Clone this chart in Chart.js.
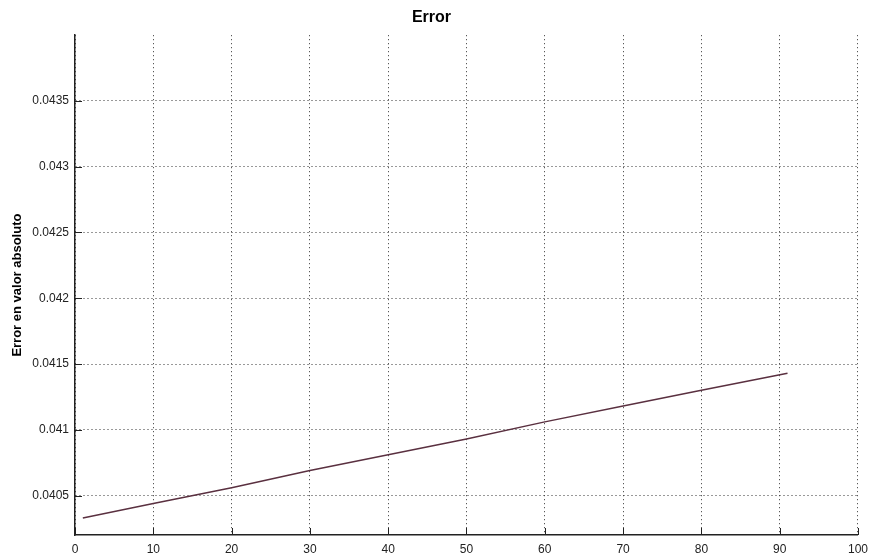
<!DOCTYPE html>
<html lang="es">

<head>
    <meta charset="UTF-8" />
    <title>Error</title>
    <script src="https://cdn.jsdelivr.net/npm/chart.js"></script>
    <style>
        html, body { margin: 0; padding: 0; background: #fff; }
        #wrap { width: 875px; height: 560px; }
    </style>
</head>

<body>
    <div id="wrap">
        <canvas id="errorGrafik" width="875" height="560"></canvas>
    </div>

    <script>
        // iteraciones y error
        const iteraciones = [1, 10, 20, 30, 40, 50, 60, 70, 80, 91];
        const errorAbs = [0.04033, 0.04044, 0.04056, 0.04069, 0.04081, 0.04093, 0.04106, 0.04118, 0.04130, 0.04143];
        const xTicks = [0, 10, 20, 30, 40, 50, 60, 70, 80, 90, 100];
        const yTicks = [0.0405, 0.041, 0.0415, 0.042, 0.0425, 0.043, 0.0435];

        const puntos = iteraciones.map((x, i) => ({ x: x, y: errorAbs[i] }));

        // marcas de los ejes hacia adentro, como en matlab
        const marcasInternas = {
            id: 'marcasInternas',
            afterDraw(chart) {
                const ctx = chart.ctx;
                const area = chart.chartArea;
                const xs = chart.scales.x;
                const ys = chart.scales.y;
                ctx.save();
                ctx.strokeStyle = '#222';
                ctx.lineWidth = 1;
                ctx.beginPath();
                xTicks.forEach(v => {
                    const px = Math.round(xs.getPixelForValue(v)) + 0.5;
                    ctx.moveTo(px, area.bottom);
                    ctx.lineTo(px, area.bottom - 7);
                });
                yTicks.forEach(v => {
                    const py = Math.round(ys.getPixelForValue(v)) + 0.5;
                    ctx.moveTo(area.left, py);
                    ctx.lineTo(area.left + 7, py);
                });
                ctx.stroke();
                ctx.restore();
            }
        };

        const ctx = document.getElementById('errorGrafik').getContext('2d');
        const errorGrafik = new Chart(ctx, {
            type: 'line',
            data: {
                datasets: [{
                    label: 'Error',
                    data: puntos,
                    borderColor: '#5a3040',
                    borderWidth: 1.5,
                    pointRadius: 0,
                    fill: false,
                    tension: 0
                }]
            },
            options: {
                responsive: false,
                animation: false,
                layout: { padding: { left: 0, right: 12, top: 0, bottom: 0 } },
                plugins: {
                    legend: { display: false },
                    tooltip: { enabled: false },
                    title: {
                        display: true,
                        text: 'Error',
                        color: '#000',
                        font: { family: 'Liberation Sans', size: 16, weight: 'bold' },
                        padding: { top: 8, bottom: 8 }
                    }
                },
                scales: {
                    x: {
                        type: 'linear',
                        min: 0,
                        max: 100,
                        afterBuildTicks: (scale) => { scale.ticks = xTicks.map(v => ({ value: v })); },
                        afterFit: (scale) => { scale.height = 25; },
                        ticks: {
                            color: '#222',
                            font: { family: 'Liberation Sans', size: 12 },
                            maxRotation: 0,
                            padding: 7
                        },
                        grid: { color: '#333', lineWidth: 1, drawTicks: false },
                        border: { display: true, color: '#222', width: 1.5, dash: [1, 3] }
                    },
                    y: {
                        type: 'linear',
                        min: 0.0402,
                        max: 0.0440,
                        afterBuildTicks: (scale) => { scale.ticks = yTicks.map(v => ({ value: v })); },
                        afterFit: (scale) => { scale.width = 75; },
                        ticks: {
                            color: '#222',
                            font: { family: 'Liberation Sans', size: 12 },
                            padding: 6,
                            callback: (v) => String(+v.toFixed(4))
                        },
                        grid: { color: '#333', lineWidth: 1, drawTicks: false },
                        border: { display: true, color: '#222', width: 1.5, dash: [1, 3] },
                        title: {
                            display: true,
                            text: 'Error en valor absoluto',
                            color: '#000',
                            font: { family: 'Liberation Sans', size: 13, weight: 'bold' },
                            padding: { top: 10, bottom: 0 }
                        }
                    }
                }
            },
            plugins: [marcasInternas]
        });
    </script>
</body>

</html>
